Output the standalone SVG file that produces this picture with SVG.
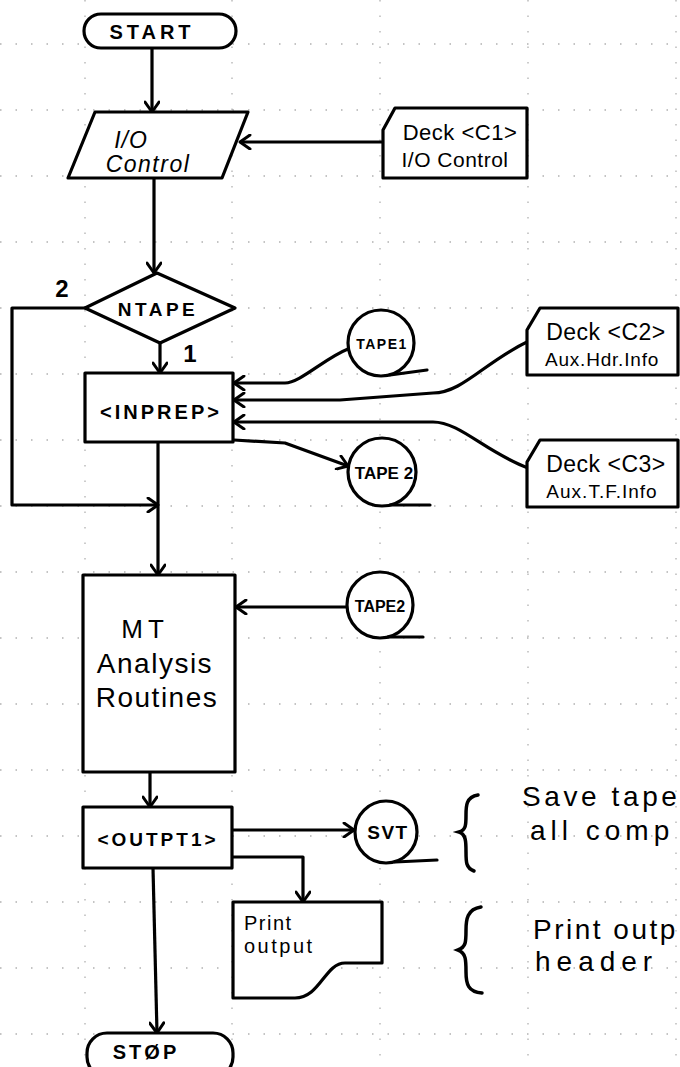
<svg xmlns="http://www.w3.org/2000/svg" width="680" height="1067" viewBox="0 0 680 1067">
<style>
.grid line{stroke:#000;stroke-width:1.3;stroke-dasharray:1.5 14;opacity:0.3}
.shape{fill:#fff;stroke:#000;stroke-width:3.2;stroke-linejoin:round}
.tail{fill:none;stroke:#000;stroke-width:3.2;stroke-linecap:round}
.conn path{fill:none;stroke:#000;stroke-width:3.2;stroke-linejoin:round}
.t{font-family:"Liberation Sans",Arial,sans-serif;fill:#000;text-anchor:middle}
.n{font-family:"Liberation Sans",Arial,sans-serif;fill:#000}
.brace{fill:none;stroke:#000;stroke-width:3.5;stroke-linecap:round}
</style>
<defs>
<marker id="arr" markerWidth="16" markerHeight="16" refX="12" refY="8" orient="auto" markerUnits="userSpaceOnUse">
<path d="M2,1 L12,8 L2,15" fill="none" stroke="#000" stroke-width="3" stroke-linecap="round" stroke-linejoin="round"/>
</marker>
</defs>
<rect width="680" height="1067" fill="#fff"/>
<g class="grid">
<line x1="0" y1="44" x2="680" y2="44"/>
<line x1="0" y1="110" x2="680" y2="110"/>
<line x1="0" y1="176" x2="680" y2="176"/>
<line x1="0" y1="242" x2="680" y2="242"/>
<line x1="0" y1="308" x2="680" y2="308"/>
<line x1="0" y1="374" x2="680" y2="374"/>
<line x1="0" y1="440" x2="680" y2="440"/>
<line x1="0" y1="506" x2="680" y2="506"/>
<line x1="0" y1="572" x2="680" y2="572"/>
<line x1="0" y1="638" x2="680" y2="638"/>
<line x1="0" y1="704" x2="680" y2="704"/>
<line x1="0" y1="770" x2="680" y2="770"/>
<line x1="0" y1="836" x2="680" y2="836"/>
<line x1="0" y1="902" x2="680" y2="902"/>
<line x1="0" y1="968" x2="680" y2="968"/>
<line x1="0" y1="1034" x2="680" y2="1034"/>
<line x1="85" y1="0" x2="85" y2="1067"/>
<line x1="232" y1="0" x2="232" y2="1067"/>
<line x1="380" y1="0" x2="380" y2="1067"/>
<line x1="528" y1="0" x2="528" y2="1067"/>
<line x1="676" y1="0" x2="676" y2="1067"/>
</g>
<g id="connectors" class="conn">
<path d="M152,48 V112" marker-end="url(#arr)"/>
<path d="M383,142 H240" marker-end="url(#arr)"/>
<path d="M154,178 V273" marker-end="url(#arr)"/>
<path d="M85,308 H12 V505 H158" marker-end="url(#arr)"/>
<path d="M160,343 V373" marker-end="url(#arr)"/>
<path d="M348,349 C325,358 300,383 285,383 H234" marker-end="url(#arr)"/>
<path d="M527,342 C485,362 462,393 433,393 L340,400 H234" marker-end="url(#arr)"/>
<path d="M528,468 C485,452 460,422 433,422 H234" marker-end="url(#arr)"/>
<path d="M234,440 L285,443 L348,466" marker-end="url(#arr)"/>
<path d="M158,442 V575" marker-end="url(#arr)"/>
<path d="M347,607 H236" marker-end="url(#arr)"/>
<path d="M150,772 V807" marker-end="url(#arr)"/>
<path d="M232,830 H354" marker-end="url(#arr)"/>
<path d="M232,857 H303 V902" marker-end="url(#arr)"/>
<path d="M153,868 L157,1033" marker-end="url(#arr)"/>
</g>
<g id="start">
<rect class="shape" x="84" y="14" width="152" height="34" rx="17"/>
<text class="t" x="152" y="39" font-size="20" font-weight="bold" letter-spacing="4">START</text>
</g>
<g id="io-control">
<path class="shape" d="M95,112 L248,112 L222,178 L68,178 Z"/>
<text class="t" x="131" y="148" font-size="23" font-style="italic" letter-spacing="1">I/O</text>
<text class="t" x="148" y="172" font-size="23" font-style="italic" letter-spacing="1.5">Control</text>
</g>
<g id="deck-c1">
<path class="shape" d="M395,108 L527,108 L527,178 L383,178 L383,130 Z"/>
<text class="t" x="460" y="140" font-size="22" letter-spacing="0.5">Deck &lt;C1&gt;</text>
<text class="t" x="455" y="167" font-size="21" letter-spacing="0.5">I/O Control</text>
</g>
<g id="ntape">
<path class="shape" d="M157,273 L235,308 L160,343 L85,308 Z"/>
<text class="t" x="158" y="316" font-size="19" font-weight="bold" letter-spacing="3.5">NTAPE</text>
<text class="t" x="62" y="297" font-size="24" font-weight="bold">2</text>
<text class="t" x="190" y="362" font-size="24" font-weight="bold">1</text>
</g>
<g id="inprep">
<rect class="shape" x="85" y="373" width="148" height="69"/>
<text class="t" x="161" y="419" font-size="20" font-weight="bold" letter-spacing="3">&lt;INPREP&gt;</text>
</g>
<g id="tape1">
<circle class="shape" cx="381" cy="343" r="33"/>
<path class="tail" d="M390,375 L427,370"/>
<text class="t" x="382" y="349" font-size="14" font-weight="bold" letter-spacing="1.5">TAPE1</text>
</g>
<g id="deck-c2">
<path class="shape" d="M540,308 L678,308 L678,375 L527,375 L527,330 Z"/>
<text class="t" x="606" y="340" font-size="23" letter-spacing="0.5">Deck &lt;C2&gt;</text>
<text class="t" x="602" y="366" font-size="19" letter-spacing="0.8">Aux.Hdr.Info</text>
</g>
<g id="deck-c3">
<path class="shape" d="M540,440 L678,440 L678,507 L527,507 L527,462 Z"/>
<text class="t" x="606" y="472" font-size="23" letter-spacing="0.5">Deck &lt;C3&gt;</text>
<text class="t" x="602" y="498" font-size="19" letter-spacing="1">Aux.T.F.Info</text>
</g>
<g id="tape2-out">
<circle class="shape" cx="382" cy="472" r="34"/>
<path class="tail" d="M390,505 L430,505"/>
<text class="t" x="384" y="479" font-size="17" font-weight="bold">TAPE 2</text>
</g>
<g id="mt-analysis">
<rect class="shape" x="83" y="575" width="152" height="197"/>
<text class="t" x="145" y="638" font-size="26" letter-spacing="5">MT</text>
<text class="t" x="155" y="673" font-size="28" letter-spacing="1.5">Analysis</text>
<text class="t" x="157" y="707" font-size="28" letter-spacing="1.5">Routines</text>
</g>
<g id="tape2-in">
<circle class="shape" cx="380" cy="605" r="33"/>
<path class="tail" d="M388,637 L423,637"/>
<text class="t" x="380" y="612" font-size="16" font-weight="bold">TAPE2</text>
</g>
<g id="outpt1">
<rect class="shape" x="83" y="807" width="149" height="61"/>
<text class="t" x="158" y="846" font-size="19" font-weight="bold" letter-spacing="3">&lt;OUTPT1&gt;</text>
</g>
<g id="svt">
<circle class="shape" cx="386" cy="832" r="31"/>
<path class="tail" d="M395,862 L437,860"/>
<text class="t" x="388" y="839" font-size="19" font-weight="bold" letter-spacing="1.5">SVT</text>
</g>
<g id="print-output">
<path class="shape" d="M233,902 L382,902 L382,963 L345,963 C325,963 320,998 295,998 L233,998 Z"/>
<text class="n" x="244" y="930" font-size="20" letter-spacing="1.5">Print</text>
<text class="n" x="244" y="953" font-size="20" letter-spacing="2.5">output</text>
</g>
<g id="stop">
<rect class="shape" x="87" y="1033" width="146" height="44" rx="20"/>
<text class="t" x="146" y="1059" font-size="20" font-weight="bold" letter-spacing="3">STØP</text>
</g>
<g id="note-save">
<path class="brace" d="M478,795 C466,797 466,806 466,815 C466,825 466,830 459,832 C466,834 466,842 466,852 C466,862 466,868 474,871"/>
<text class="n" x="522" y="806" font-size="28" letter-spacing="3.6">Save tape</text>
<text class="n" x="530" y="840" font-size="28" letter-spacing="5">all comp</text>
</g>
<g id="note-print">
<path class="brace" d="M481,907 C467,909 466,920 466,930 C466,942 466,947 458,950 C466,953 466,960 466,972 C466,984 468,992 482,993"/>
<text class="n" x="533" y="939" font-size="28" letter-spacing="2.5">Print outp</text>
<text class="n" x="535" y="971" font-size="28" letter-spacing="6">header</text>
</g>
</svg>
